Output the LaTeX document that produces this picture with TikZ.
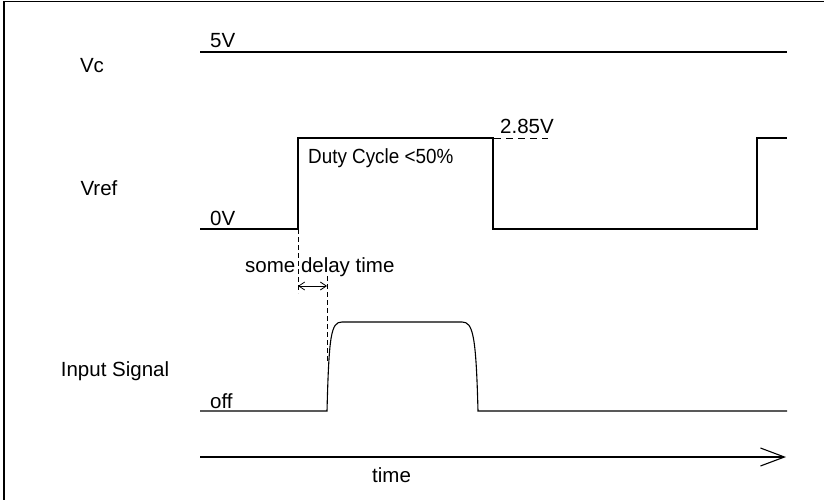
\documentclass[tikz,border=0pt]{standalone}
\usepackage{fontspec}
\setmainfont{Liberation Sans}
\usetikzlibrary{arrows.meta,positioning}

\begin{document}
\begin{tikzpicture}[
    x=1pt,y=-1pt,
    wave/.style={line width=1.1pt,line join=miter},
    guide/.style={line width=0.8pt,dash pattern=on 5pt off 3pt},
    lbl/.style={font=\fontsize{20.5}{24}\selectfont,inner sep=0pt},
    axis/.style={line width=1.1pt,-{Straight Barb[length=24pt,width=18pt]}},
    delay/.style={line width=0.8pt,{Straight Barb[length=6pt,width=8pt]}-{Straight Barb[length=6pt,width=8pt]}}
  ]
    \useasboundingbox (0,0) rectangle (824,500);
    % frame
    \draw[line width=1.2pt] (4,500) -- (4,1.5) -- (824,1.5);

    % row labels
    \node[lbl] (vc)   at (92,66)   {Vc};
    \node[lbl] (vref) at (99,188)  {Vref};
    \node[lbl] (inp)  at (115,371) {Input Signal};

    % level labels
    \node[lbl,anchor=base west] (five) at (210,48)  {5V};
    \node[lbl,anchor=base west] (zero) at (210,225) {0V};
    \node[lbl,anchor=base west] (off)  at (210,408) {off};
    \node[lbl,anchor=base west] (hi)   at (500,134) {2.85V};
    \node[lbl,anchor=base west,xscale=0.92] (duty) at (308,163) {Duty Cycle <50\%};
    \node[lbl,anchor=base west] (dly)  at (245,272) {some delay time};
    \node[lbl,anchor=base west] (tm)   at (372,482) {time};

    % Vc
    \coordinate (c0) at (200,52);
    \coordinate (c1) at (787,52);
    \draw[wave] (c0) -- (c1);

    % Vref
    \coordinate (r0) at (200,229);
    \coordinate (rup) at (298,229);
    \coordinate (rtop) at (298,138);
    \coordinate (rfall) at (493,138);
    \coordinate (rlow) at (493,229);
    \coordinate (rup2) at (757,229);
    \coordinate (rtop2) at (757,138);
    \coordinate (r1) at (787,138);
    \draw[wave] (r0) -- (rup) -- (rtop) -- (rfall) -- (rlow) -- (rup2) -- (rtop2) -- (r1);
    \coordinate (hiend) at (548,138);
    \draw[guide,dash pattern=on 7pt off 5pt] (482,138) -- (hiend);

    % Input signal
    \coordinate (s0) at (200,411);
    \coordinate (srise) at (327,411);
    \coordinate (stop) at (342,322);
    \coordinate (stop2) at (462,322);
    \coordinate (sfall) at (478,411);
    \coordinate (s1) at (787,411);
    \draw[wave] (s0) -- (srise)
      .. controls (329,335) and (331,322) .. (stop) -- (stop2)
      .. controls (473,322) and (476,335) .. (sfall) -- (s1);

    % delay markers
    \coordinate (g1) at (298,293);
    \coordinate (g2a) at (327,276);
    \coordinate (g2b) at (327,363);
    \draw[guide] (rup) -- (g1);
    \draw[guide] (g2a) -- (g2b);
    \coordinate (d0) at (298,286);
    \coordinate (d1) at (327,286);
    \draw[delay] (d0) -- (d1);

    % time axis
    \coordinate (t0) at (200,457);
    \coordinate (t1) at (786,457);
    \draw[axis] (t0) -- (t1);
  \end{tikzpicture}
\end{document}
